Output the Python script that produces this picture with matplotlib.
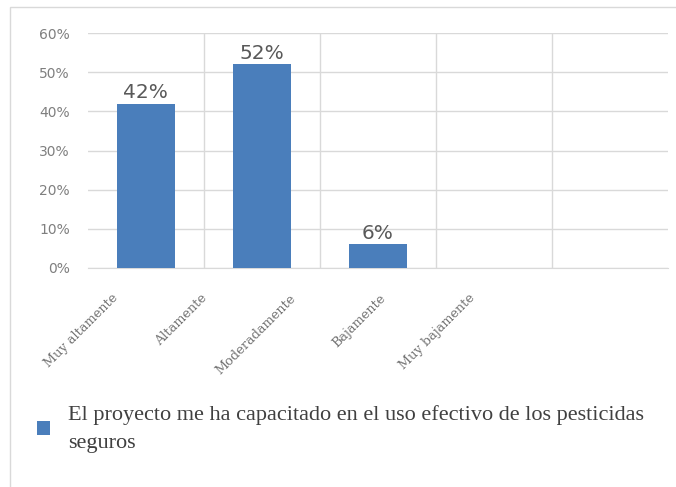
import matplotlib.pyplot as plt
from matplotlib.patches import Rectangle
from matplotlib.ticker import PercentFormatter, MultipleLocator

# Datos
categorias = ['Muy altamente', 'Altamente', 'Moderadamente', 'Bajamente', 'Muy bajamente']
valores = [42, 52, 6, 0, 0]
etiquetas = ['42%', '52%', '6%', '', '']
serie = 'El proyecto me ha capacitado en el uso efectivo de los pesticidas\nseguros'

fig = plt.figure(figsize=(6.76, 4.87), dpi=100)
ax = fig.add_axes([0.130, 0.4497, 0.858, 0.4825])

# marco del gráfico
fig.patches.append(Rectangle((0.015, -0.01), 0.99, 0.995, transform=fig.transFigure,
                             fill=False, edgecolor='#d9d9d9', lw=1))

x = list(range(len(categorias)))
barras = ax.bar(x, valores, width=0.5, color='#4a7ebb', linewidth=0,
                zorder=3, label=serie)

for b, t in zip(barras, etiquetas):
    if t:
        ax.text(b.get_x() + b.get_width() / 2, b.get_height() + 0.4, t,
                ha='center', va='bottom', fontsize=14.5, color='#595959',
                family='DejaVu Sans', zorder=4)

ax.set_xlim(-0.5, 4.5)
ax.set_ylim(0, 60)
ax.yaxis.set_major_locator(MultipleLocator(10))
ax.yaxis.set_major_formatter(PercentFormatter(decimals=0))
ax.grid(axis='y', color='#d9d9d9', lw=1, zorder=0)

# líneas verticales entre categorías
for xb in [0.5, 1.5, 2.5, 3.5]:
    ax.axvline(xb, color='#d9d9d9', lw=1, zorder=0)

# en la imagen las etiquetas quedan desplazadas a la izquierda
pos_etiquetas = [i * 0.77 - 0.30 for i in x]
ax.set_xticks(pos_etiquetas)
ax.set_xticklabels(categorias, rotation=45, ha='right', va='top', rotation_mode='anchor',
                   fontsize=9.3, color='#737373', family='DejaVu Serif')
ax.tick_params(axis='x', length=0, pad=17)
ax.tick_params(axis='y', length=0, labelsize=10, labelcolor='#7f7f7f', pad=13)

for s in ['top', 'right', 'left']:
    ax.spines[s].set_visible(False)
ax.spines['bottom'].set_color('#d9d9d9')

leg = fig.legend(handles=[barras], labels=[serie], loc='upper left',
                 bbox_to_anchor=(37 / 676, 1 - 405 / 487), bbox_transform=fig.transFigure,
                 frameon=False, prop={'family': 'Liberation Serif', 'size': 16},
                 handlelength=0.6, handleheight=0.6, handletextpad=0.8,
                 borderpad=0, borderaxespad=0, labelcolor='#404040')
leg.get_texts()[0].set_linespacing(1.65)

plt.savefig('out.png', dpi=100)
